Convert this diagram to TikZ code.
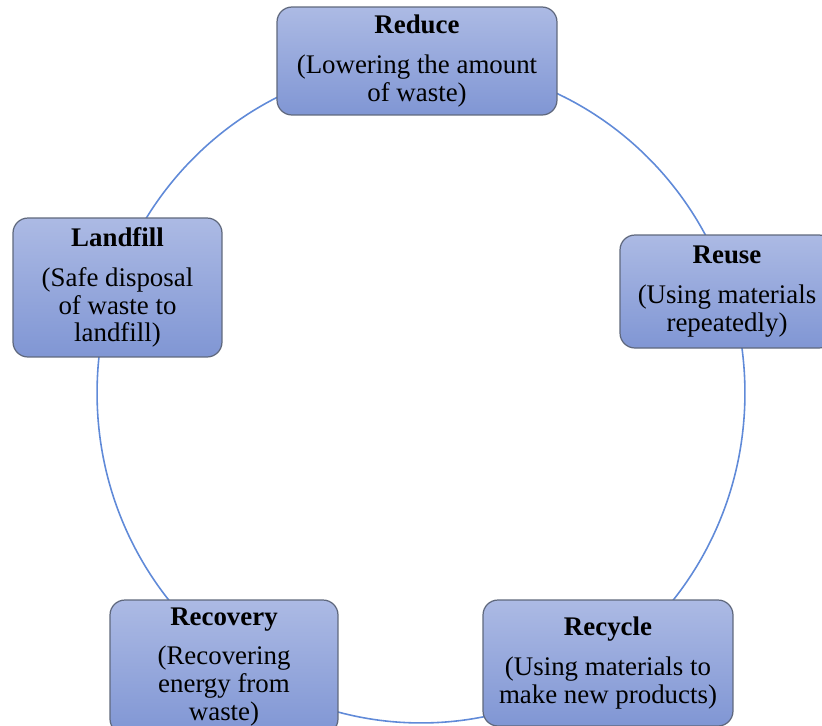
\documentclass[tikz,border=0pt]{standalone}
\usepackage{fontspec}
\setmainfont{Liberation Serif}
\usepackage{xcolor}
\usepackage{tikz}
\usetikzlibrary{positioning}

\definecolor{boxtop}{RGB}{172,186,228}
\definecolor{boxbottom}{RGB}{128,150,212}
\definecolor{boxedge}{RGB}{95,104,125}
\definecolor{ringblue}{RGB}{96,138,216}

\begin{document}
\begin{tikzpicture}[
    x=0.02cm, y=-0.02cm,
    stage/.style={
      draw=boxedge,
      line width=0.7pt,
      top color=boxtop,
      bottom color=boxbottom,
      rounded corners=8.5pt,
      align=center,
      inner sep=2pt,
      font=\fontsize{15.3}{15.9}\selectfont
    },
    ring/.style={
      draw=ringblue,
      line width=0.9pt
    }
]
\useasboundingbox (0,0) rectangle (822,725);

% Cycle ring
\coordinate (centre) at (421,393);
\draw [ring] (centre) ellipse [x radius=6.48cm, y radius=6.6cm];

% Reduce
\node (reduce) [stage, minimum width=5.6cm, minimum height=2.16cm] at (417,61)
  {\textbf{Reduce}\\[6.8pt](Lowering the amount\\of waste)};

% Reuse
\node (reuse) [stage, minimum width=4.28cm, minimum height=2.26cm] at (727,291.5)
  {\textbf{Reuse}\\[6.8pt](Using materials\\repeatedly)};

% Recycle
\node (recycle) [stage, minimum width=5cm, minimum height=2.52cm] at (608,663)
  {\textbf{Recycle}\\[6.8pt](Using materials to\\make new products)};

% Recovery
\node (recovery) [stage, minimum width=4.56cm, minimum height=2.68cm] at (224,667)
  {\textbf{Recovery}\\[6.8pt](Recovering\\energy from\\waste)};

% Landfill
\node (landfill) [stage, minimum width=4.18cm, minimum height=2.78cm] at (117.5,287.5)
  {\textbf{Landfill}\\[6.8pt](Safe disposal\\of waste to\\landfill)};

\end{tikzpicture}
\end{document}
